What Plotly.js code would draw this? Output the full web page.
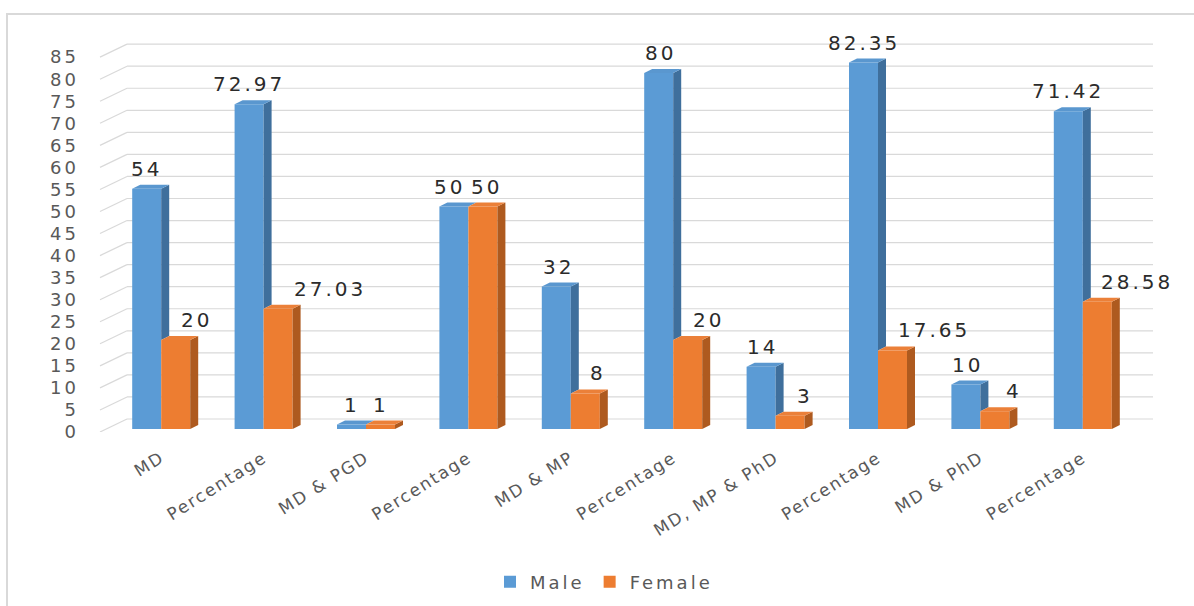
<!DOCTYPE html>
<html>
<head>
<meta charset="utf-8">
<script src="https://cdn.plot.ly/plotly-3.0.1.min.js"></script>
<style>
  html, body { margin: 0; padding: 0; background: #ffffff; }
  #chart { width: 1194px; height: 606px; }
  .xtick text { letter-spacing: 1.8px; }
  .y2tick text { letter-spacing: 3px; }
  text.annotation-text { letter-spacing: 3px; }
  text.legendtext { letter-spacing: 3px; }
</style>
</head>
<body>
<div id="chart"></div>
<script>
// Qualification groups and gender split
const categories = ['MD', 'Percentage', 'MD & PGD', 'Percentage', 'MD & MP',
                    'Percentage', 'MD, MP & PhD', 'Percentage', 'MD & PhD', 'Percentage'];
const male   = [54, 72.97, 1, 50, 32, 80, 14, 82.35, 10, 71.42];
const female = [20, 27.03, 1, 50, 8, 20, 3, 17.65, 4, 28.58];
const seriesNames = ['Male', 'Female'];
const yTicks = [0, 5, 10, 15, 20, 25, 30, 35, 40, 45, 50, 55, 60, 65, 70, 75, 80, 85];

// ---- geometry of the pseudo-3D column chart ----
const W = 1194, H = 606;
const M = { l: 110, r: 60, t: 28, b: 174, autoexpand: false };
const plotW = W - M.l - M.r;
const plotH = H - M.t - M.b;
const catPx = plotW / categories.length;   // pixels per category
const unitPx = 4.45;                        // pixels per value unit (bars)
const labelUnitPx = 4.41;                   // pixels per value unit (front wall scale)
const yMin = -3 / unitPx;
const yMax = yMin + plotH / unitPx;
const barW = 29 / catPx;
const depthX = 8 / catPx, depthY = 4 / unitPx;   // bar depth
const wallDX = 27, wallDY = 13;                  // back wall offset in px

const colors = {
  male:   { front: '#5B9BD5', side: '#3F6F9C', top: '#5A97CF' },
  female: { front: '#ED7D31', side: '#AE5A1F', top: '#EB8039' }
};

const xIdx = categories.map((_, i) => i);
const bottomPx = M.t + plotH;
const toY = p => yMin + (bottomPx - p) / unitPx;   // pixel row -> bar axis value
const toPX = p => (p - M.l) / plotW;               // pixel column -> paper x

const shapes = [];

// chart frame
shapes.push({
  type: 'rect', xref: 'paper', yref: 'paper', layer: 'below',
  x0: toPX(7), x1: toPX(W + 20), y0: -(H + 20 - bottomPx) / plotH, y1: (bottomPx - 14) / plotH,
  line: { color: '#d9d9d9', width: 2 }, fillcolor: 'rgba(0,0,0,0)'
});

// side wall diagonals and back wall gridlines
yTicks.forEach(v => {
  const front = bottomPx - v * labelUnitPx;
  const back = front - wallDY;
  shapes.push({
    type: 'line', xref: 'paper', yref: 'y', layer: 'below',
    x0: toPX(M.l - 10), y0: toY(front), x1: toPX(M.l - 10 + wallDX), y1: toY(back),
    line: { color: '#d9d9d9', width: 1.2 }
  });
  shapes.push({
    type: 'line', xref: 'paper', yref: 'y', layer: 'below',
    x0: toPX(M.l - 10 + wallDX), y0: toY(back), x1: toPX(1153), y1: toY(back),
    line: { color: '#d9d9d9', width: 1.2 }
  });
});

const poly = pts => 'M' + pts.map(p => p[0] + ',' + p[1]).join(' L') + ' Z';
const face = (pts, color) => ({
  type: 'path', xref: 'x', yref: 'y', layer: 'above',
  path: poly(pts), fillcolor: color, line: { width: 0 }
});

// side and top faces, built from the same values as the bars
xIdx.forEach(i => {
  const m = male[i], f = female[i];
  const mL = i - barW, mR = i;
  const fL = i, fR = i + barW;
  if (m > f) {
    shapes.push(face([[mR, f], [mR + depthX, f + depthY], [mR + depthX, m + depthY], [mR, m]], colors.male.side));
  }
  shapes.push(face([[mL, m], [mL + depthX, m + depthY], [mR + depthX, m + depthY], [mR, m]], colors.male.top));
  shapes.push(face([[fR, 0], [fR + depthX, depthY], [fR + depthX, f + depthY], [fR, f]], colors.female.side));
  shapes.push(face([[fL, f], [fL + depthX, f + depthY], [fR + depthX, f + depthY], [fR, f]], colors.female.top));
});

// value labels (pixel nudges keep neighbouring labels apart)
const maleNudge   = [0, 0, 0, -4, 2, 2, 1, 0, 2, 0];
const femaleNudge = [21, 52, 0, 4, 13, 21, 15, 41, 19, 40];
const labelFont = { family: 'DejaVu Sans', size: 20, color: '#2b2b2b' };
const annotations = [];
xIdx.forEach(i => {
  annotations.push({
    x: i - barW / 2, y: male[i], xref: 'x', yref: 'y', text: String(male[i]),
    showarrow: false, yanchor: 'middle', yshift: 20, xshift: maleNudge[i], font: labelFont
  });
  annotations.push({
    x: i + barW / 2, y: female[i], xref: 'x', yref: 'y', text: String(female[i]),
    showarrow: false, yanchor: 'middle', yshift: 20, xshift: femaleNudge[i], font: labelFont
  });
});

const traces = [
  {
    type: 'bar', name: seriesNames[0], x: xIdx, y: male,
    width: barW, offset: -barW,
    marker: { color: colors.male.front, line: { width: 0 } }, hoverinfo: 'y+name'
  },
  {
    type: 'bar', name: seriesNames[1], x: xIdx, y: female,
    width: barW, offset: 0,
    marker: { color: colors.female.front, line: { width: 0 } }, hoverinfo: 'y+name'
  },
  // carries the value axis drawn on the front wall
  { type: 'scatter', x: [], y: [], yaxis: 'y2', showlegend: false, hoverinfo: 'skip' }
];

const layout = {
  width: W, height: H,
  margin: M,
  paper_bgcolor: '#ffffff', plot_bgcolor: 'rgba(0,0,0,0)',
  font: { family: 'DejaVu Sans', color: '#595959' },
  barmode: 'overlay',
  showlegend: true,
  legend: {
    orientation: 'h', x: toPX(604), xanchor: 'center',
    y: -(582 - bottomPx) / plotH, yanchor: 'middle',
    font: { family: 'DejaVu Sans', size: 18, color: '#595959' },
    itemclick: false
  },
  xaxis: {
    type: 'linear', range: [-0.5, categories.length - 0.5], automargin: false,
    tickmode: 'array', tickvals: xIdx, ticktext: categories,
    tickangle: -32, ticks: '', ticklabelstandoff: 12,
    showgrid: false, zeroline: false, showline: false,
    tickfont: { family: 'DejaVu Sans', size: 17, color: '#595959' }
  },
  yaxis: {
    range: [yMin, yMax], showticklabels: false, ticks: '', automargin: false,
    showgrid: false, zeroline: false, showline: false
  },
  yaxis2: {
    overlaying: 'y', side: 'left', range: [0, plotH / labelUnitPx], automargin: false,
    tickmode: 'array', tickvals: yTicks, ticks: '', ticklabelstandoff: 30,
    showgrid: false, zeroline: false, showline: false,
    tickfont: { family: 'DejaVu Sans', size: 18, color: '#595959' }
  },
  shapes: shapes,
  annotations: annotations
};

Plotly.newPlot('chart', traces, layout, { displayModeBar: false, staticPlot: true });
</script>
</body>
</html>
